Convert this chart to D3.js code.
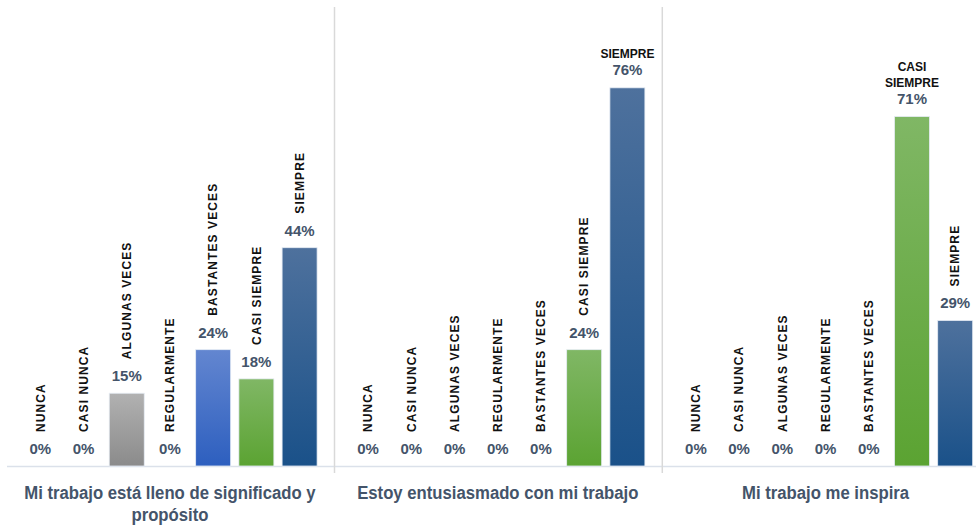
<html>
<head>
  <meta charset="utf-8">
  <title></title>
  <script src="https://d3js.org/d3.v7.min.js"></script>
  <style>
    body {
      margin: 0;
      padding: 0;
      background: #fff;
    }
    .value {
      font-family: "Liberation Sans", Arial, sans-serif;
      font-weight: bold;
      font-size: 15px;
      fill: #44546a;
      text-anchor: middle;
    }
    .cat {
      font-family: "Liberation Sans", Arial, sans-serif;
      font-weight: bold;
      font-size: 12px;
      fill: #111;
    }
    .title {
      font-family: "Liberation Sans", Arial, sans-serif;
      font-weight: bold;
      font-size: 19px;
      fill: #44546a;
      text-anchor: middle;
    }
  </style>
</head>
<body>
<div id="chart"></div>
<script>

var categories = ["NUNCA", "CASI NUNCA", "ALGUNAS VECES", "REGULARMENTE", "BASTANTES VECES", "CASI SIEMPRE", "SIEMPRE"];
var questions = [
  ["Mi trabajo está lleno de significado y", "propósito"],
  ["Estoy entusiasmado con mi trabajo"],
  ["Mi trabajo me inspira"]
];
// percent of answers
var valuesSignificado = [0, 0, 14.7, 0, 23.5, 17.6, 44.1];
var valuesEntusiasmo = [0, 0, 0, 0, 0, 23.5, 76.4];
var valuesInspira = [0, 0, 0, 0, 0, 70.6, 29.4];
var series = [valuesSignificado, valuesEntusiasmo, valuesInspira];

// gradient stops (top, bottom) per answer
var barColors = {
  "NUNCA": ["#9aa9c0", "#7f8ea8"],
  "CASI NUNCA": ["#b0b0b0", "#8c8c8c"],
  "ALGUNAS VECES": ["#b1b1b1", "#8b8b8b"],
  "REGULARMENTE": ["#ffc44d", "#f0a800"],
  "BASTANTES VECES": ["#6386d0", "#2d5fbf"],
  "CASI SIEMPRE": ["#80b765", "#5ba332"],
  "SIEMPRE": ["#4e719d", "#1a5189"]
};

var width = 976, height = 527;
var baseY = 466;
var panelW = 327.8;
var firstX = 18.7;
var bandW = 302.5;

var svg = d3.select("#chart").append("svg")
    .attr("width", width)
    .attr("height", height);

var defs = svg.append("defs");
categories.forEach(function(c, i) {
  var g = defs.append("linearGradient")
      .attr("id", "grad" + i)
      .attr("x1", 0).attr("y1", 0)
      .attr("x2", 0).attr("y2", 1);
  g.append("stop").attr("offset", "0%").attr("stop-color", barColors[c][0]);
  g.append("stop").attr("offset", "100%").attr("stop-color", barColors[c][1]);
});

var y = d3.scaleLinear()
    .domain([0, 80])
    .range([baseY, baseY - 80 * 4.95]);

// baseline
svg.append("line")
    .attr("x1", 7).attr("x2", width)
    .attr("y1", baseY + 0.5).attr("y2", baseY + 0.5)
    .attr("stroke", "#dbe1ea")
    .attr("stroke-width", 1.5);

series.forEach(function(values, p) {
  var x0 = firstX + p * panelW;

  var x = d3.scaleBand()
      .domain(categories)
      .range([x0, x0 + bandW])
      .paddingInner(0.19)
      .paddingOuter(0.095);

  if (p > 0) {
    svg.append("line")
        .attr("x1", x0 - 12).attr("x2", x0 - 12)
        .attr("y1", 7).attr("y2", 473)
        .attr("stroke", "#d9d9d9")
        .attr("stroke-width", 1.5);
  }

  var data = categories.map(function(c, i) {
    return { cat: c, idx: i, v: values[i] };
  });

  var g = svg.append("g");

  g.selectAll(".bar")
      .data(data.filter(function(d) { return d.v > 0; }))
    .enter().append("rect")
      .attr("class", "bar")
      .attr("x", function(d) { return x(d.cat); })
      .attr("width", x.bandwidth())
      .attr("y", function(d) { return y(d.v); })
      .attr("height", function(d) { return baseY - y(d.v); })
      .attr("fill", function(d) { return "url(#grad" + d.idx + ")"; })
      .attr("stroke", "#e6ecf4")
      .attr("stroke-width", 0.8);

  data.forEach(function(d) {
    var cx = x(d.cat) + x.bandwidth() / 2;
    var top = y(d.v);
    // rough length of the rotated label
    var len = d.cat.length * 8.6;
    var horizontal = top - 35 - len < 10;

    if (horizontal) {
      var vb = top - 13;
      g.append("text")
          .attr("class", "value")
          .attr("x", cx)
          .attr("y", vb)
          .text(Math.round(d.v) + "%");
      var words = d.cat.split(" ");
      words.forEach(function(w, k) {
        g.append("text")
            .attr("class", "cat")
            .attr("text-anchor", "middle")
            .attr("x", cx)
            .attr("y", vb - 17 - (words.length - 1 - k) * 16)
            .text(w);
      });
    } else {
      var vb2 = top - 12;
      g.append("text")
          .attr("class", "value")
          .attr("x", cx)
          .attr("y", vb2)
          .text(Math.round(d.v) + "%");
      g.append("text")
          .attr("class", "cat")
          .attr("transform", "translate(" + cx + "," + (vb2 - 22) + ") rotate(-90)")
          .attr("dy", "0.35em")
          .style("letter-spacing", "1.1px")
          .text(d.cat);
    }
  });

  // question title under each panel, squeezed like a narrow face
  var t = svg.append("g")
      .attr("transform", "translate(" + (x0 + bandW / 2) + ",0) scale(0.88,1)")
    .append("text")
      .attr("class", "title")
      .attr("x", 0)
      .attr("y", 499);
  questions[p].forEach(function(line, k) {
    t.append("tspan")
        .attr("x", 0)
        .attr("dy", k === 0 ? 0 : 22)
        .text(line);
  });
});

</script>
</body>
</html>
